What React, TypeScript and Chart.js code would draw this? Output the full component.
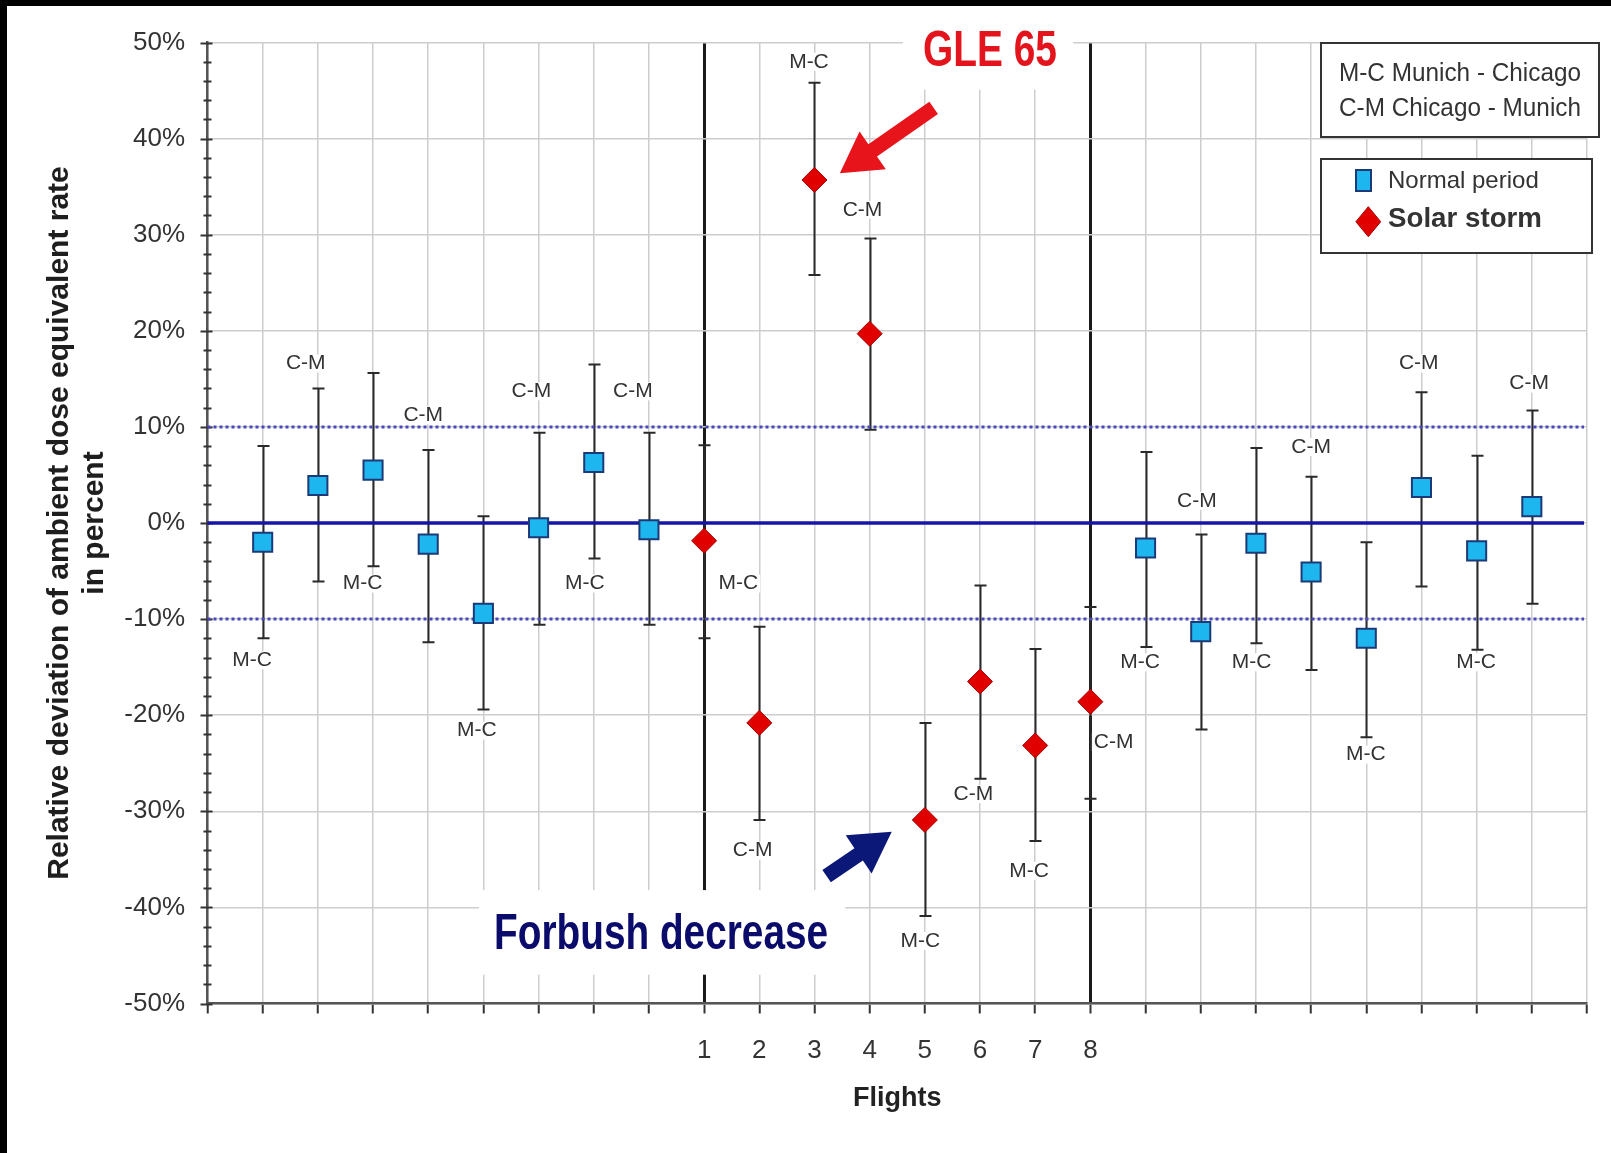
import React, { useEffect, useRef } from 'react';
import { Chart, registerables } from 'chart.js';

Chart.register(...registerables);

const FONT = "'Liberation Sans', Arial, Helvetica, sans-serif";

// ---------- data ----------
// x slots on the flight axis (0..25); storm flights occupy slots 9..16
const normalSlots = [1, 2, 3, 4, 5, 6, 7, 8, 17, 18, 19, 20, 21, 22, 23, 24];
const normalValues = [-2.0, 3.9, 5.5, -2.2, -9.4, -0.5, 6.3, -0.7, -2.6, -11.3, -2.1, -5.1, -12.0, 3.7, -2.9, 1.7];
const normalHigh = [8.0, 14.0, 15.6, 7.6, 0.7, 9.4, 16.5, 9.4, 7.4, -1.2, 7.8, 4.8, -2.0, 13.6, 7.0, 11.7];
const normalLow = [-12.0, -6.1, -4.5, -12.4, -19.4, -10.6, -3.7, -10.6, -12.9, -21.5, -12.5, -15.3, -22.3, -6.6, -13.2, -8.4];
const normalRoutes = ['M-C', 'C-M', 'M-C', 'C-M', 'M-C', 'C-M', 'M-C', 'C-M', 'M-C', 'C-M', 'M-C', 'C-M', 'M-C', 'C-M', 'M-C', 'C-M'];
const normalLabelY = [-14.3, 16.6, -6.3, 11.2, -21.6, 13.7, -6.3, 13.7, -14.5, 2.3, -14.5, 7.9, -24.1, 16.6, -14.5, 14.5];
const normalLabelShift = [-0.19, -0.22, -0.19, -0.09, -0.12, -0.13, -0.16, -0.29, -0.1, -0.07, -0.08, 0, -0.01, -0.05, -0.01, -0.05];

const stormSlots = [9, 10, 11, 12, 13, 14, 15, 16];
const stormValues = [-1.85, -20.8, 35.7, 19.7, -30.9, -16.5, -23.15, -18.6];
const stormHigh = [8.1, -10.8, 45.8, 29.6, -20.8, -6.5, -13.1, -8.75];
const stormLow = [-12.0, -30.9, 25.8, 9.7, -40.9, -26.6, -33.1, -28.7];
const stormRoutes = ['M-C', 'C-M', 'M-C', 'C-M', 'M-C', 'C-M', 'M-C', 'C-M'];
const stormLabelY = [-6.3, -34.1, 48.0, 32.6, -43.5, -28.2, -36.2, -22.8];
const stormLabelShift = [0.62, -0.12, -0.1, -0.13, -0.08, -0.12, -0.11, 0.42];

const flightTickLabels = ['1', '2', '3', '4', '5', '6', '7', '8'];
const flightTickFirstSlot = 9;
const dividerSlots = [9, 16];
const referenceLevels = [-10, 0, 10];
const routeLegendLines = ['M-C Munich - Chicago', 'C-M Chicago - Munich'];
const seriesNames = ['Normal period', 'Solar storm'];
const yTitleLines = ['Relative deviation of ambient dose equivalent rate', 'in percent'];

// ---------- annotation layout (data units) ----------
const coverBoxes = [
  { x0: 12.6, x1: 15.69, y0: 51.5, y1: 45.1 },
  { x0: 4.92, x1: 11.56, y0: -38.2, y1: -47.0 },
];
const gleText = { text: 'GLE 65', x: 14.18, y: 49.0, color: '#e3141b', size: 50, maxW: 134 };
const forbushText = { text: 'Forbush decrease', x: 8.22, y: -42.9, color: '#0b0b6b', size: 50, maxW: 334 };
const redArrow = { tx: 13.16, ty: 43.2, hx: 11.46, hy: 36.4, color: '#e8141b' };
const blueArrow = { tx: 11.22, ty: -36.75, hx: 12.4, hy: -32.14, color: '#0c1878' };

const NORMAL_FILL = '#1eb6ee';
const NORMAL_EDGE = '#1d3a78';
const STORM_FILL = '#e00000';
const STORM_EDGE = '#a80000';

function drawArrow(ctx: CanvasRenderingContext2D, tx: number, ty: number, hx: number, hy: number, color: string) {
  const shaftHalf = 7.5, headHalf = 23, headLen = 40;
  const dx = hx - tx, dy = hy - ty;
  const L = Math.hypot(dx, dy);
  const ux = dx / L, uy = dy / L;
  const nx = -uy, ny = ux;
  const bx = hx - ux * headLen, by = hy - uy * headLen;
  ctx.beginPath();
  ctx.moveTo(tx + nx * shaftHalf, ty + ny * shaftHalf);
  ctx.lineTo(bx + nx * shaftHalf, by + ny * shaftHalf);
  ctx.lineTo(bx + nx * headHalf, by + ny * headHalf);
  ctx.lineTo(hx, hy);
  ctx.lineTo(bx - nx * headHalf, by - ny * headHalf);
  ctx.lineTo(bx - nx * shaftHalf, by - ny * shaftHalf);
  ctx.lineTo(tx - nx * shaftHalf, ty - ny * shaftHalf);
  ctx.closePath();
  ctx.fillStyle = color;
  ctx.fill();
}

const decorPlugin = {
  id: 'decor',
  beforeDraw(chart: any) {
    const { ctx, width, height } = chart;
    ctx.save();
    ctx.fillStyle = '#ffffff';
    ctx.fillRect(0, 0, width, height);
    ctx.fillStyle = '#000000';
    ctx.fillRect(0, 0, width, 6);
    ctx.fillRect(0, 0, 7, height);
    ctx.restore();
  },
  beforeDatasetsDraw(chart: any) {
    const { ctx, chartArea } = chart;
    const xs = chart.scales.x, ys = chart.scales.y;
    const px = (v: number) => xs.getPixelForValue(v);
    const py = (v: number) => ys.getPixelForValue(v);
    ctx.save();

    // white boxes behind the annotations
    ctx.fillStyle = '#ffffff';
    for (const b of coverBoxes) {
      const x1 = px(b.x0), x2 = px(b.x1), y1 = py(b.y0), y2 = py(b.y1);
      ctx.fillRect(Math.min(x1, x2), Math.min(y1, y2), Math.abs(x2 - x1), Math.abs(y2 - y1));
    }

    // y-axis tick marks (major + minor)
    ctx.strokeStyle = '#333333';
    ctx.lineWidth = 2;
    for (let v = ys.min; v <= ys.max + 1e-9; v += 2) {
      const y = Math.round(py(v)) + 0.5;
      const major = Math.abs(v % 10) < 1e-9;
      ctx.beginPath();
      ctx.moveTo(chartArea.left - (major ? 7 : 4), y);
      ctx.lineTo(chartArea.left + (major ? 5 : 4), y);
      ctx.stroke();
    }

    // route labels
    ctx.font = `21px ${FONT}`;
    ctx.textAlign = 'center';
    ctx.textBaseline = 'middle';
    const drawLabels = (slots: number[], routes: string[], ly: number[], shift: number[]) => {
      slots.forEach((s, i) => {
        const x = px(s + shift[i]);
        const y = py(ly[i]);
        const w = ctx.measureText(routes[i]).width;
        ctx.fillStyle = '#ffffff';
        ctx.fillRect(x - w / 2 - 2, y - 9, w + 4, 18);
        ctx.fillStyle = '#333333';
        ctx.fillText(routes[i], x, y, 40);
      });
    };
    drawLabels(normalSlots, normalRoutes, normalLabelY, normalLabelShift);
    drawLabels(stormSlots, stormRoutes, stormLabelY, stormLabelShift);

    // error bars
    ctx.strokeStyle = '#2a2a2a';
    ctx.lineWidth = 2;
    const drawErr = (slots: number[], lo: number[], hi: number[]) => {
      slots.forEach((s, i) => {
        const x = Math.round(px(s)) + 0.5;
        const y1 = py(hi[i]), y2 = py(lo[i]);
        ctx.beginPath();
        ctx.moveTo(x, y1);
        ctx.lineTo(x, y2);
        ctx.moveTo(x - 6, y1);
        ctx.lineTo(x + 6, y1);
        ctx.moveTo(x - 6, y2);
        ctx.lineTo(x + 6, y2);
        ctx.stroke();
      });
    };
    drawErr(normalSlots, normalLow, normalHigh);
    drawErr(stormSlots, stormLow, stormHigh);

    // reference lines
    for (const lv of referenceLevels) {
      const y = py(lv);
      ctx.beginPath();
      if (lv === 0) {
        ctx.setLineDash([]);
        ctx.strokeStyle = '#1616a6';
        ctx.lineWidth = 3.5;
      } else {
        ctx.setLineDash([3, 3]);
        ctx.strokeStyle = '#4848bc';
        ctx.lineWidth = 3;
      }
      ctx.moveTo(chartArea.left, y);
      ctx.lineTo(chartArea.right - 3, y);
      ctx.stroke();
    }
    ctx.setLineDash([]);
    ctx.restore();
  },
  afterDatasetsDraw(chart: any) {
    const { ctx } = chart;
    const xs = chart.scales.x, ys = chart.scales.y;
    const px = (v: number) => xs.getPixelForValue(v);
    const py = (v: number) => ys.getPixelForValue(v);
    ctx.save();

    // annotation texts
    ctx.textAlign = 'center';
    ctx.textBaseline = 'middle';
    for (const t of [gleText, forbushText]) {
      ctx.font = `bold ${t.size}px ${FONT}`;
      ctx.fillStyle = t.color;
      ctx.fillText(t.text, px(t.x), py(t.y), t.maxW);
    }
    // arrows
    for (const a of [redArrow, blueArrow]) {
      drawArrow(ctx, px(a.tx), py(a.ty), px(a.hx), py(a.hy), a.color);
    }

    // legend box 1 (route abbreviations)
    ctx.lineWidth = 2;
    ctx.strokeStyle = '#333333';
    ctx.fillStyle = '#ffffff';
    ctx.fillRect(1321, 43, 278, 94);
    ctx.strokeRect(1321, 43, 278, 94);
    ctx.fillStyle = '#333333';
    ctx.font = `25px ${FONT}`;
    ctx.fillText(routeLegendLines[0], 1460, 74, 242);
    ctx.fillText(routeLegendLines[1], 1460, 109, 242);

    // legend box 2 (series)
    const ds = chart.data.datasets;
    ctx.fillStyle = '#ffffff';
    ctx.fillRect(1321, 159, 271, 94);
    ctx.strokeRect(1321, 159, 271, 94);
    // square
    ctx.fillStyle = ds[0].backgroundColor;
    ctx.strokeStyle = ds[0].borderColor;
    ctx.lineWidth = 2;
    ctx.fillRect(1356, 170, 15, 21);
    ctx.strokeRect(1356, 170, 15, 21);
    // diamond
    ctx.beginPath();
    ctx.moveTo(1368.3, 206.7);
    ctx.lineTo(1380.7, 221.7);
    ctx.lineTo(1368.3, 236.7);
    ctx.lineTo(1355.9, 221.7);
    ctx.closePath();
    ctx.fillStyle = ds[1].backgroundColor;
    ctx.fill();
    ctx.lineWidth = 1;
    ctx.strokeStyle = ds[1].borderColor;
    ctx.stroke();
    ctx.textAlign = 'left';
    ctx.fillStyle = '#333333';
    ctx.font = `24px ${FONT}`;
    ctx.fillText(ds[0].label, 1388, 181, 152);
    ctx.font = `bold 28px ${FONT}`;
    ctx.fillText(ds[1].label, 1388, 219, 154);

    ctx.restore();
  },
};

export default function App() {
  const ref = useRef<HTMLCanvasElement | null>(null);

  useEffect(() => {
    document.body.style.margin = '0';
    const canvas = ref.current;
    if (!canvas) return;
    const chart = new Chart(canvas, {
      type: 'scatter',
      data: {
        datasets: [
          {
            label: seriesNames[0],
            data: normalSlots.map((x, i) => ({ x, y: normalValues[i] })),
            pointStyle: 'rect',
            pointRadius: 13.5,
            pointHoverRadius: 13.5,
            backgroundColor: NORMAL_FILL,
            borderColor: NORMAL_EDGE,
            borderWidth: 2,
            showLine: false,
          },
          {
            label: seriesNames[1],
            data: stormSlots.map((x, i) => ({ x, y: stormValues[i] })),
            pointStyle: 'rectRot',
            pointRadius: 12.5,
            pointHoverRadius: 12.5,
            backgroundColor: STORM_FILL,
            borderColor: STORM_EDGE,
            borderWidth: 1,
            showLine: false,
          },
        ],
      },
      options: {
        responsive: false,
        animation: false,
        events: [],
        layout: { padding: { top: 42.5, right: 24, bottom: 0, left: 0 } },
        plugins: { legend: { display: false }, tooltip: { enabled: false } },
        scales: {
          x: {
            type: 'linear',
            min: 0,
            max: 25,
            afterFit: (s: any) => {
              s.height = 149.5;
            },
            ticks: {
              stepSize: 1,
              autoSkip: false,
              maxRotation: 0,
              padding: 22,
              color: '#333333',
              font: { family: FONT, size: 26, lineHeight: 1.2 },
              callback: (v: any) => {
                const i = Math.round(Number(v)) - flightTickFirstSlot;
                return i >= 0 && i < flightTickLabels.length ? flightTickLabels[i] : '';
              },
            },
            grid: {
              color: (c: any) => (c.tick && dividerSlots.includes(Math.round(c.tick.value)) ? '#1a1a1a' : '#cdcdcd'),
              lineWidth: (c: any) => (c.tick && dividerSlots.includes(Math.round(c.tick.value)) ? 3 : 1.5),
              drawTicks: true,
              tickLength: 10,
              tickColor: '#333333',
              tickWidth: 2,
            },
            border: { display: true, color: '#555555', width: 2.5 },
            title: {
              display: true,
              text: 'Flights',
              color: '#222222',
              font: { family: FONT, size: 27, weight: 'bold', lineHeight: 1.2 },
              padding: { top: 0, bottom: 38 },
            },
          },
          y: {
            type: 'linear',
            min: -50,
            max: 50,
            afterFit: (s: any) => {
              s.width = 207.5;
            },
            ticks: {
              stepSize: 10,
              padding: 22.5,
              color: '#333333',
              font: { family: FONT, size: 26 },
              callback: (v: any) => `${v}%`,
            },
            grid: { color: '#cdcdcd', lineWidth: 1.5, drawTicks: false },
            border: { display: true, color: '#555555', width: 2.5 },
            title: {
              display: true,
              text: yTitleLines,
              color: '#1e1e1e',
              font: { family: FONT, size: 30, weight: 'bold', lineHeight: 1.15 },
              padding: { top: 42.75, bottom: 0 },
            },
          },
        },
      },
      plugins: [decorPlugin],
    } as any);
    return () => chart.destroy();
  }, []);

  return <canvas ref={ref} width={1611} height={1153} style={{ display: 'block' }} />;
}
